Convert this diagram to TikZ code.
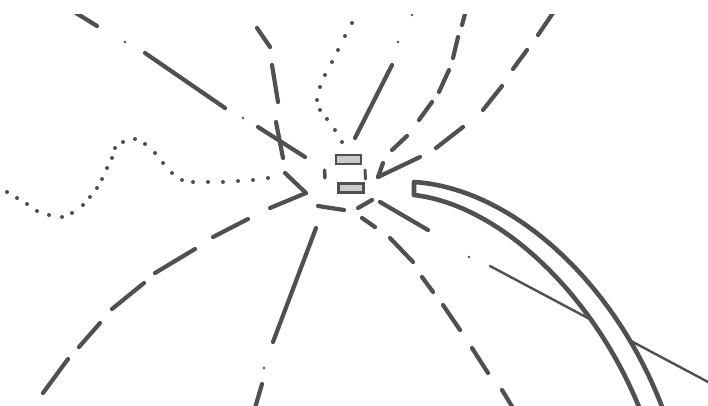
\documentclass[tikz,border=0pt]{standalone}
\usepackage{xcolor}
\usepackage{tikz}
\usetikzlibrary{arrows.meta}
\definecolor{Ink}{HTML}{505050}
\definecolor{Shade}{HTML}{CACACA}

\begin{document}
\begin{tikzpicture}[x=1pt,y=-1pt,
  ink/.style={draw=Ink,line width=4.2pt,line cap=round},
  fine/.style={draw=Ink,line width=2.4pt,line cap=round},
  cell/.style={draw=Ink,fill=Shade,line width=2.2pt,minimum width=25pt,minimum height=9pt,inner sep=0pt}]
  \useasboundingbox (0,0) rectangle (708,405);
  \clip (0,14) rectangle (708,405);
  % the little block in the middle
  \node[cell] (upper) at (348.5,159.5) {};
  \node[cell] (lower) at (351,188) {};
  \draw[ink,line width=3.5pt] (324.5,170) -- (325,178);
  \draw[ink,line width=3pt] (365,170) -- (365.5,179);
  \foreach \xa/\ya/\xb/\yb in {318/206/344/210, 358/208/372/200}
    \draw[ink] (\xa,\ya) -- (\xb,\yb);
  % dash-dot line, top left
  \foreach \xa/\ya/\xb/\yb in {76/13/97/26, 145/53/225/108, 258/127/305/157}
    \draw[ink] (\xa,\ya) -- (\xb,\yb);
  \fill[Ink] (125,42) circle (1.4pt) (243,118) circle (1.4pt);
  % dashed curve crossing it
  \foreach \xa/\ya/\xb/\yb in {257/28/270/47, 272/65/278/102, 276/122/283/158}
    \draw[ink] (\xa,\ya) -- (\xb,\yb);
  % dotted loop from the top
  \foreach \x/\y in {352/23, 345/36, 338/50, 332/62, 325/75, 320/87, 317/100, 320/110, 327/119, 335/130, 342/142}
    \fill[Ink] (\x,\y) circle (2pt);
  % dash-dot line from the top
  \draw[ink] (392,65) -- (355,138);
  \fill[Ink] (398,42) circle (1.3pt) (412,15) circle (1.3pt);
  % dashed curve from the top
  \foreach \xa/\ya/\xb/\yb in {466/10/462/25, 458/37/453/58, 449/70/439/92, 432/102/419/120, 407/136/392/150}
    \draw[ink] (\xa,\ya) -- (\xb,\yb);
  % dashed line with its barb, top right
  \foreach \xa/\ya/\xb/\yb in {555/10/538/35, 527/50/513/69, 502/86/483/110, 463/127/436/148, 420/157/378/177, 383/163/378/177}
    \draw[ink] (\xa,\ya) -- (\xb,\yb);
  % wavy dotted line, left
  \foreach \x/\y in {7/192, 17/198, 27/204, 37/211, 49/215, 62/217, 72/213, 83/205, 90/197, 97/188, 102/179, 107/168, 112/158, 115/148, 123/142, 135/139, 145/144, 155/153, 163/163, 172/173, 182/180, 193/182, 208/182, 223/182, 238/181, 253/180, 268/178}
    \fill[Ink] (\x,\y) circle (2pt);
  % dashed curve with its barb, bottom left
  \foreach \xa/\ya/\xb/\yb in {43/393/68/359, 79/347/100/323, 112/309/144/283, 155/273/195/249, 213/237/248/219, 270/208/306/193, 285/173/306/193}
    \draw[ink] (\xa,\ya) -- (\xb,\yb);
  % dash-dot line, down
  \draw[ink] (316,228) -- (273,342);
  \draw[ink] (262,384) -- (255,408);
  \fill[Ink] (264,368) circle (1.3pt);
  % dashed curve, down right
  \foreach \xa/\ya/\xb/\yb in {362/218/375/227, 390/238/413/262, 422/277/433/292, 443/305/460/330, 472/348/488/373, 502/390/513/408}
    \draw[ink] (\xa,\ya) -- (\xb,\yb);
  % dash-dot line running under the band
  \draw[ink] (380,202) -- (428,230);
  \fill[Ink] (469,257) circle (1.3pt);
  \draw[fine] (490,266) -- (710,383);
  % the band
  \draw[Ink,line width=4.6pt,fill=white,line join=round]
    (414,182) .. controls (510,188) and (615,280) .. (664,412)
    -- (641,412) .. controls (595,295) and (500,205) .. (414,195) -- cycle;
\end{tikzpicture}
\end{document}
